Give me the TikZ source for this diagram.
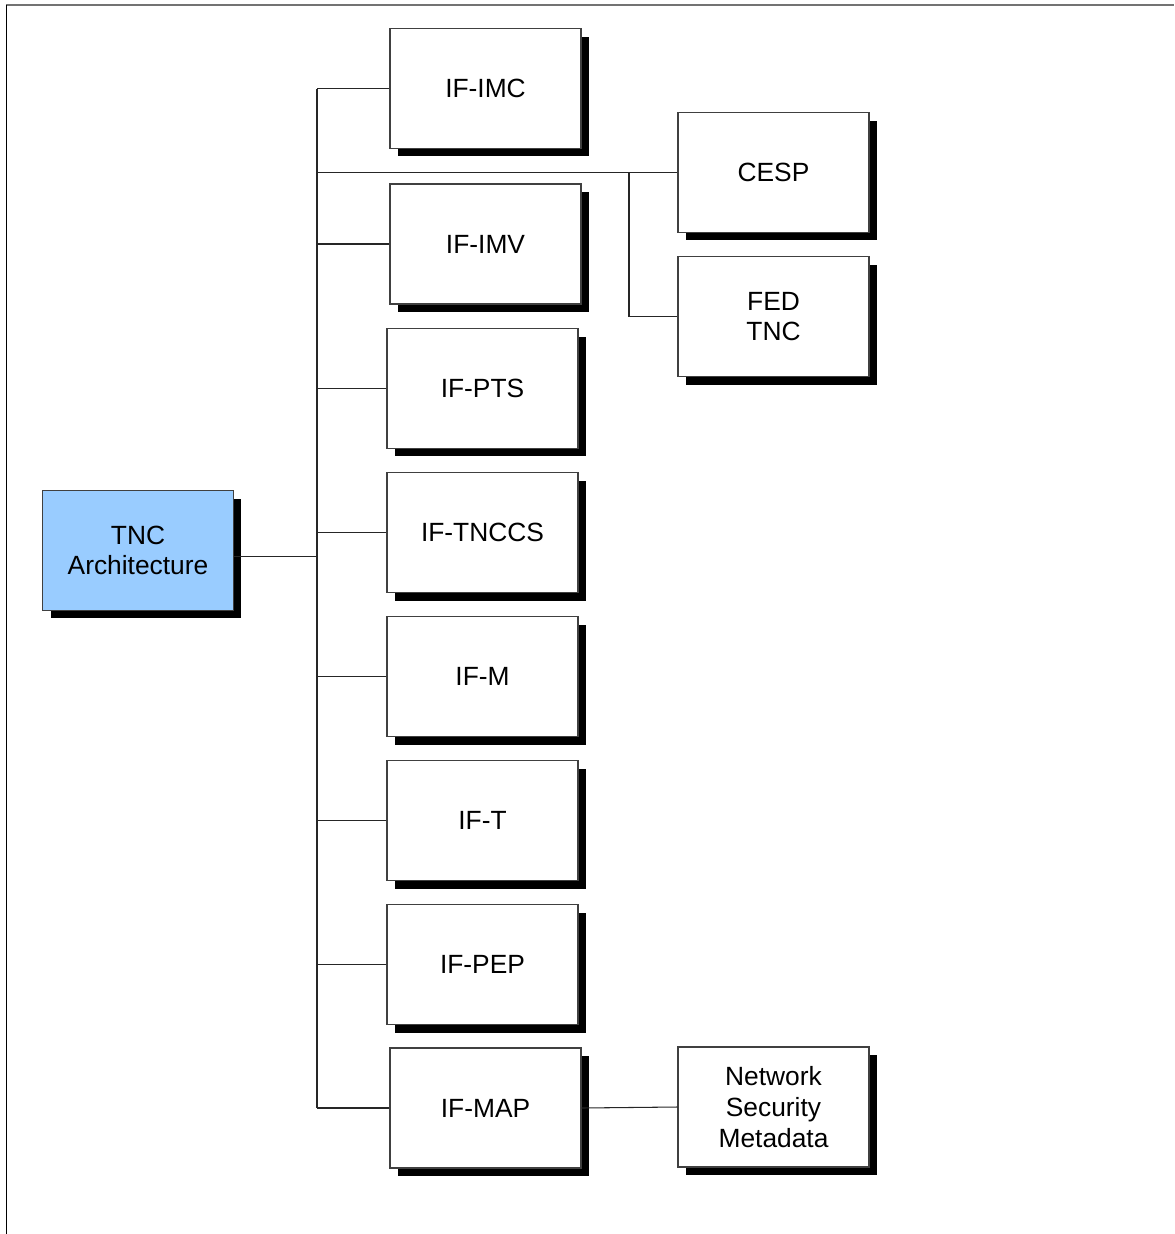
\documentclass[tikz,border=0pt]{standalone}
\usepackage{fontspec}
\setmainfont{Liberation Sans}
\usetikzlibrary{positioning,shadows}
\definecolor{rootblue}{HTML}{99CCFF}

\begin{document}
\begin{tikzpicture}[x=0.02cm,y=-0.02cm,node distance=0.46cm,
	box/.style={draw=black!75,fill=white,line width=0.6pt,minimum width=3.82cm,minimum height=2.4cm,align=center,font=\fontsize{15}{17.5}\selectfont,general shadow={fill=black,shadow xshift=0.16cm,shadow yshift=-0.16cm}},
	root/.style={box,fill=rootblue},
	link/.style={draw=black!85,line width=0.6pt}]
		\useasboundingbox (0,0) rectangle (1174,1234);
		\draw[black!55,line width=0.9pt] (6,5) -- (1174,5);
		\draw[black,line width=0.7pt] (6.5,5) -- (6.5,1234);

		\node[root] (tnc) at (138,550.5) {TNC\\Architecture};
		\node[box] (imc) at (485.5,88.5) {IF-IMC};
		\node[box] (imv) at (485.5,244) {IF-IMV};
		\node[box] (pts) at (482.5,388.5) {IF-PTS};
		\node[box] (tnccs) [below=of pts] {IF-TNCCS};
		\node[box] (ifm) [below=of tnccs] {IF-M};
		\node[box] (ift) [below=of ifm] {IF-T};
		\node[box] (pep) [below=of ift] {IF-PEP};
		\node[box] (imap) at (485.5,1108) {IF-MAP};
		\node[box] (cesp) at (773.5,172.5) {CESP};
		\node[box] (fed) [below=of cesp] {FED\\TNC};
		\node[box] (nsm) at (773.5,1107) {Network\\Security\\Metadata};

		\coordinate (tk) at (317,0);
		\coordinate (fk) at (629,0);

		\draw[link] (imc.west -| tk) -- (imap.west -| tk);
		\draw[link] ([yshift=-0.12cm]tnc.east) -- ([yshift=-0.12cm]tnc.east -| tk);
		\foreach \n in {imc,imv,pts,tnccs,ifm,ift,pep,imap,cesp}
			\draw[link] (\n.west) -- (\n.west -| tk);
		\draw[link] (cesp.west -| fk) |- (fed.west);
		\draw[link] (imap.east) -- (nsm.west);
\end{tikzpicture}
\end{document}
